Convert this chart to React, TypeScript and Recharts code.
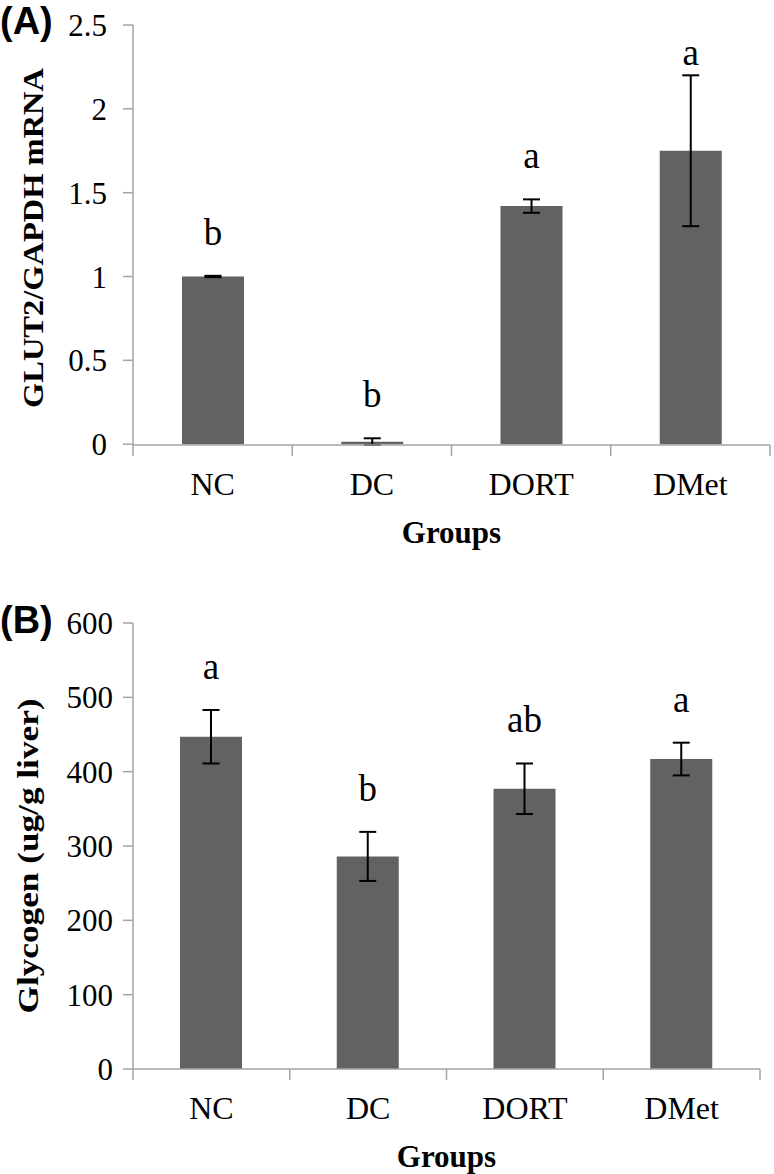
import React from 'react';
import {
  BarChart,
  Bar,
  XAxis,
  YAxis,
  ErrorBar,
  LabelList,
  Label,
} from 'recharts';

const groups = ['NC', 'DC', 'DORT', 'DMet'];

// panel A: GLUT2/GAPDH mRNA
const glutMean = [1.0, 0.015, 1.42, 1.75];
const glutErr = [0.004, 0.02, 0.04, 0.45];
const glutLetters = ['b', 'b', 'a', 'a'];
const glutTicks = [0, 0.5, 1, 1.5, 2, 2.5];

// panel B: glycogen
const glycoMean = [447, 286, 377, 417];
const glycoErr = [36, 33, 34, 22];
const glycoLetters = ['a', 'b', 'ab', 'a'];
const glycoTicks = [0, 100, 200, 300, 400, 500, 600];

const SERIF = '"Liberation Serif", "Times New Roman", serif';
const SANS = '"Liberation Sans", Arial, sans-serif';
const AXIS = '#a3a3a3';
const BAR = '#626262';

const W = 774;
const H = 587;

const makeXTick = (band: number, axisY: number) => (props: any) => {
  const { x, payload, index } = props;
  return (
    <g>
      <line x1={x - band / 2} y1={axisY} x2={x - band / 2} y2={axisY + 11} stroke={AXIS} strokeWidth={1.5} />
      {index === groups.length - 1 && (
        <line x1={x + band / 2} y1={axisY} x2={x + band / 2} y2={axisY + 11} stroke={AXIS} strokeWidth={1.5} />
      )}
      <text x={x} y={axisY + 50} textAnchor="middle" fontSize={32} fontFamily={SERIF} fill="#000">
        {payload.value}
      </text>
    </g>
  );
};

const makeLetter =
  (letters: string[], errs: number[], pxPerUnit: number, top: number) => (props: any) => {
    const { x, y, width, index } = props;
    const errTop = Number(y) - errs[index] * pxPerUnit;
    const base = Math.max(errTop - 31, top + 40);
    return (
      <text x={Number(x) + Number(width) / 2} y={base} textAnchor="middle" fontSize={37} fontFamily={SERIF} fill="#000">
        {letters[index]}
      </text>
    );
  };

type PanelProps = {
  tag: string;
  tagY: number;
  title: string;
  titleX: number;
  titleY: number;
  titleLen: number;
  means: number[];
  errs: number[];
  letters: string[];
  ticks: number[];
  top: number;
  axisY: number;
  right: number;
  tickMargin: number;
};

const Panel = ({
  tag, tagY, title, titleX, titleY, titleLen, means, errs, letters, ticks, top, axisY, right, tickMargin,
}: PanelProps) => {
  const data = groups.map((g, i) => ({ name: g, value: means[i], err: errs[i] }));
  const plotW = W - 133 - right;
  const band = plotW / groups.length;
  const max = ticks[ticks.length - 1];
  const pxPerUnit = (axisY - top) / max;
  return (
    <BarChart
      width={W}
      height={H}
      data={data}
      margin={{ top, right, left: 0, bottom: H - axisY - 40 }}
    >
      <XAxis
        dataKey="name"
        height={40}
        axisLine={{ stroke: AXIS, strokeWidth: 1.5 }}
        tickLine={false}
        tickSize={10}
        tickMargin={0}
        tick={makeXTick(band, axisY)}
        interval={0}
      >
        <Label
          content={() => (
            <text x={133 + plotW / 2} y={axisY + 98} textAnchor="middle" fontSize={31} fontWeight="bold" fontFamily={SERIF} fill="#000">
              Groups
            </text>
          )}
        />
      </XAxis>
      <YAxis
        width={133}
        domain={[0, max]}
        ticks={ticks}
        interval={0}
        axisLine={{ stroke: AXIS, strokeWidth: 1.5 }}
        tickLine={{ stroke: AXIS, strokeWidth: 1.5 }}
        tickSize={10}
        tickMargin={tickMargin}
        tick={{ fontSize: 31, fill: '#000', fontFamily: SERIF }}
      >
        <Label
          content={() => (
            <g>
              <text x={0} y={tagY} fontSize={38} fontWeight="bold" fontFamily={SANS} fill="#000">
                {tag}
              </text>
              <text
                x={titleX}
                y={titleY}
                transform={`rotate(-90 ${titleX} ${titleY})`}
                textAnchor="middle"
                fontSize={29}
                fontWeight="bold"
                fontFamily={SERIF}
                textLength={titleLen}
                lengthAdjust="spacingAndGlyphs"
                fill="#000"
              >
                {title}
              </text>
            </g>
          )}
        />
      </YAxis>
      <Bar dataKey="value" fill={BAR} barSize={62} isAnimationActive={false}>
        <ErrorBar dataKey="err" direction="y" width={8.5} stroke="#000" strokeWidth={2} />
        <LabelList dataKey="value" content={makeLetter(letters, errs, pxPerUnit, top)} />
      </Bar>
    </BarChart>
  );
};

export default function App() {
  return (
    <div style={{ position: 'absolute', left: 0, top: 0, width: W, height: 1174, background: '#fff' }}>
      <Panel
        tag="(A)"
        tagY={34}
        title="GLUT2/GAPDH mRNA"
        titleX={43}
        titleY={238}
        titleLen={340}
        means={glutMean}
        errs={glutErr}
        letters={glutLetters}
        ticks={glutTicks}
        top={25}
        axisY={445}
        right={4}
        tickMargin={16}
      />
      <Panel
        tag="(B)"
        tagY={46}
        title="Glycogen (ug/g liver)"
        titleX={38}
        titleY={269}
        titleLen={315}
        means={glycoMean}
        errs={glycoErr}
        letters={glycoLetters}
        ticks={glycoTicks}
        top={36}
        axisY={482}
        right={14}
        tickMargin={10}
      />
    </div>
  );
}
